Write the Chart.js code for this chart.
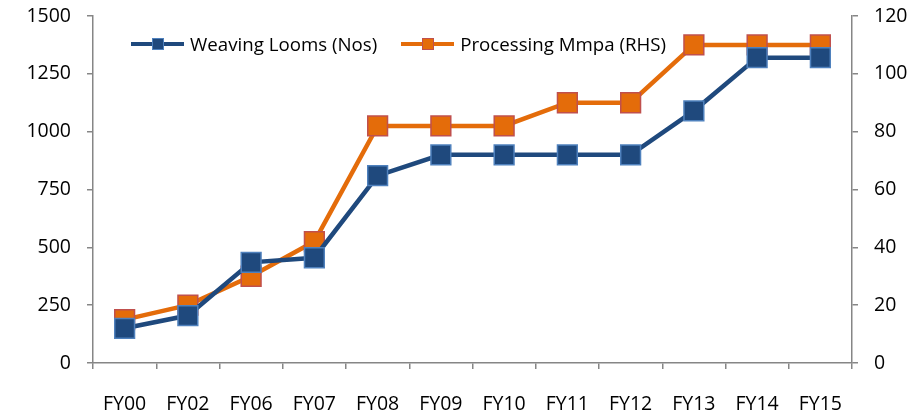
<!DOCTYPE html>
<html>
<head>
<meta charset="utf-8">
<script src="https://cdn.jsdelivr.net/npm/chart.js@4.4.1/dist/chart.umd.min.js"></script>
<style>
  html, body {
    margin: 0;
    padding: 0;
    background: #ffffff;
  }
  .chart-wrap {
    position: relative;
    width: 924px;
    height: 412px;
  }
  .legend {
    position: absolute;
    top: 31px;
    left: 131px;
    display: flex;
    align-items: center;
    font-family: "Open Sans", sans-serif;
    font-size: 18.7px;
    color: #000000;
  }
  .legend__item {
    display: flex;
    align-items: center;
    margin-right: 24px;
  }
  .legend__mark {
    position: relative;
    width: 53px;
    height: 4px;
    margin-right: 6px;
  }
  .legend__mark::after {
    content: "";
    position: absolute;
    left: 21px;
    top: -4px;
    width: 10px;
    height: 10px;
    border: 1px solid;
  }
  .legend__mark--looms {
    background: #1f497d;
  }
  .legend__mark--looms::after {
    background: #1f497d;
    border-color: #4f81bd;
  }
  .legend__mark--processing {
    background: #e46c0a;
  }
  .legend__mark--processing::after {
    background: #e46c0a;
    border-color: #c0504d;
  }
</style>
</head>
<body>
<div class="chart-wrap">
  <canvas id="chart" width="924" height="412"></canvas>
  <div class="legend">
    <div class="legend__item"><span class="legend__mark legend__mark--looms"></span>Weaving Looms (Nos)</div>
    <div class="legend__item"><span class="legend__mark legend__mark--processing"></span>Processing Mmpa (RHS)</div>
  </div>
</div>
<script>
  const years = [`FY00`, `FY02`, `FY06`, `FY07`, `FY08`, `FY09`, `FY10`, `FY11`, `FY12`, `FY13`, `FY14`, `FY15`];
  const weavingLooms = [150, 205, 435, 455, 810, 900, 900, 900, 900, 1090, 1320, 1320];
  const processingMmpa = [15, 20, 30, 42, 82, 82, 82, 90, 90, 110, 110, 110];

  const AXIS_COLOR = `#868686`;
  const FONT = {family: `"Open Sans", sans-serif`, size: 19.5};

  Chart.defaults.font = FONT;
  Chart.defaults.color = `#000000`;

  const makeAxisGrid = () => ({
    drawOnChartArea: false,
    drawTicks: true,
    tickLength: 6,
    color: AXIS_COLOR,
    lineWidth: 1.5
  });

  const plainNumber = (value) => `${value}`;

  // fixed axis boxes so the plot area lands where the original one is
  const fitVertical = (width) => (scale) => {
    scale.width = width;
    scale.paddingTop = 0;
    scale.paddingBottom = 0;
  };

  new Chart(document.getElementById(`chart`), {
    type: `line`,
    data: {
      labels: years,
      datasets: [
        {
          label: `Weaving Looms (Nos)`,
          data: weavingLooms,
          yAxisID: `yLeft`,
          borderColor: `#1f497d`,
          backgroundColor: `#1f497d`,
          borderWidth: 4.5,
          pointStyle: `rect`,
          pointRadius: 14,
          pointHoverRadius: 14,
          pointBackgroundColor: `#1f497d`,
          pointBorderColor: `#4f81bd`,
          pointBorderWidth: 1.5,
          tension: 0
        },
        {
          label: `Processing Mmpa (RHS)`,
          data: processingMmpa,
          yAxisID: `yRight`,
          borderColor: `#e46c0a`,
          backgroundColor: `#e46c0a`,
          borderWidth: 4.5,
          pointStyle: `rect`,
          pointRadius: 14,
          pointHoverRadius: 14,
          pointBackgroundColor: `#e46c0a`,
          pointBorderColor: `#c0504d`,
          pointBorderWidth: 1.5,
          tension: 0
        }
      ]
    },
    options: {
      responsive: false,
      animation: false,
      layout: {
        padding: {top: 16, left: 0, right: 0, bottom: 0}
      },
      plugins: {
        legend: {display: false},
        tooltip: {enabled: false}
      },
      scales: {
        x: {
          offset: true,
          grid: Object.assign(makeAxisGrid(), {offset: true}),
          border: {display: true, color: AXIS_COLOR, width: 1.5},
          ticks: {padding: 24, font: FONT, maxRotation: 0, autoSkip: false},
          afterFit: (scale) => {
            scale.height = 49;
            scale.paddingLeft = 0;
            scale.paddingRight = 0;
          }
        },
        yLeft: {
          position: `left`,
          min: 0,
          max: 1500,
          grid: makeAxisGrid(),
          border: {display: true, color: AXIS_COLOR, width: 1.5},
          ticks: {stepSize: 250, padding: 16, font: FONT, callback: plainNumber},
          afterFit: fitVertical(93)
        },
        yRight: {
          position: `right`,
          min: 0,
          max: 120,
          grid: makeAxisGrid(),
          border: {display: true, color: AXIS_COLOR, width: 1.5},
          ticks: {stepSize: 20, padding: 16, font: FONT, callback: plainNumber},
          afterFit: fitVertical(72)
        }
      }
    }
  });
</script>
</body>
</html>
